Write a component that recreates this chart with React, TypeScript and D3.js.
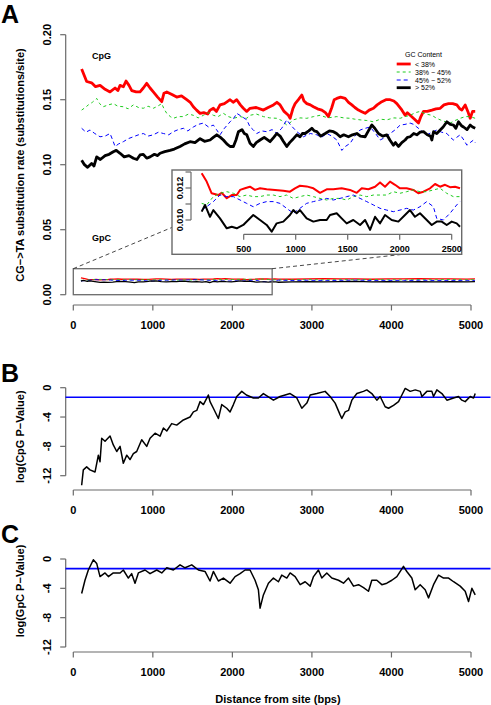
import React from "react";
import * as d3 from "d3";

type P = [number, number];

// ---------- Panel A: CpG substitution rate by GC content ----------
const cpgLow: P[] = [[105,.1736],[168,.164],[230,.163],[280,.160],[337,.161],[400,.158],[462,.156],[525,.159],[560,.157],[588,.161],[630,.160],[663,.1644],[700,.161],[735,.157],[790,.156],[839,.156],[880,.159],[923,.1626],[965,.159],[1006,.156],[1060,.152],[1112,.1485],[1140,.155],[1175,.156],[1240,.154],[1300,.152],[1360,.153],[1426,.150],[1470,.148],[1509,.1446],[1550,.142],[1594,.1395],[1640,.140],[1690,.139],[1720,.142],[1761,.1434],[1800,.141],[1845,.146],[1900,.147],[1971,.150],[2010,.148],[2055,.150],[2100,.146],[2138,.1434],[2180,.141],[2222,.1434],[2300,.144],[2390,.142],[2450,.144],[2516,.146],[2560,.148],[2600,.146],[2650,.141],[2704,.138],[2726,.1357],[2760,.143],[2789,.147],[2830,.150],[2873,.1536],[2900,.149],[2936,.147],[2980,.146],[3019,.1446],[3070,.143],[3124,.142],[3170,.140],[3208,.137],[3250,.144],[3280,.150],[3313,.151],[3360,.152],[3418,.151],[3460,.148],[3502,.146],[3540,.144],[3585,.142],[3620,.141],[3669,.1395],[3720,.142],[3774,.1434],[3820,.146],[3879,.1485],[3930,.150],[3984,.150],[4030,.149],[4068,.147],[4120,.143],[4172,.138],[4200,.140],[4235,.138],[4290,.135],[4340,.132],[4370,.137],[4403,.141],[4450,.141],[4508,.142],[4560,.143],[4613,.1434],[4660,.146],[4717,.147],[4770,.147],[4822,.146],[4860,.143],[4885,.142],[4927,.146],[4960,.141],[4990,.1357],[5020,.141],[5053,.141]];
const cpgMidLow: P[] = [[105,.142],[150,.144],[189,.146],[240,.148],[294,.151],[330,.147],[377,.1446],[440,.146],[503,.147],[560,.145],[629,.1446],[690,.143],[755,.146],[820,.144],[880,.1434],[940,.145],[1006,.1434],[1060,.145],[1112,.147],[1140,.143],[1175,.1395],[1220,.137],[1258,.1357],[1320,.137],[1384,.137],[1450,.139],[1509,.138],[1570,.136],[1635,.138],[1700,.140],[1761,.138],[1820,.137],[1887,.1395],[1950,.137],[2013,.1357],[2100,.137],[2181,.1357],[2222,.138],[2300,.139],[2390,.137],[2470,.136],[2558,.1357],[2620,.134],[2684,.1305],[2720,.132],[2767,.1345],[2850,.136],[2936,.1357],[3020,.137],[3103,.138],[3200,.136],[3313,.137],[3400,.136],[3481,.1357],[3540,.135],[3606,.1345],[3690,.134],[3774,.133],[3860,.135],[3942,.1345],[4030,.136],[4110,.1357],[4170,.137],[4235,.138],[4300,.140],[4361,.141],[4430,.139],[4508,.138],[4560,.136],[4613,.1345],[4680,.133],[4738,.132],[4800,.134],[4864,.1357],[4930,.137],[4990,.137],[5053,.1357]];
const cpgMidHigh: P[] = [[105,.128],[160,.125],[210,.1267],[270,.124],[336,.1215],[400,.122],[462,.124],[495,.119],[525,.114],[570,.116],[629,.1177],[690,.120],[755,.1215],[820,.123],[880,.124],[940,.122],[1006,.123],[1070,.125],[1133,.124],[1200,.123],[1258,.1254],[1320,.127],[1384,.128],[1440,.126],[1509,.129],[1570,.131],[1635,.132],[1700,.129],[1761,.1305],[1800,.127],[1845,.123],[1900,.128],[1971,.133],[2020,.136],[2055,.1395],[2120,.137],[2181,.1345],[2222,.129],[2260,.127],[2306,.124],[2370,.126],[2432,.1254],[2500,.127],[2558,.124],[2620,.128],[2684,.1345],[2740,.130],[2810,.1254],[2893,.1215],[2980,.124],[3062,.123],[3120,.121],[3187,.124],[3250,.122],[3313,.119],[3376,.111],[3420,.114],[3481,.1165],[3540,.122],[3606,.1267],[3670,.128],[3732,.129],[3800,.124],[3858,.119],[3920,.121],[3984,.124],[4050,.127],[4110,.1305],[4170,.131],[4235,.132],[4280,.131],[4319,.129],[4380,.126],[4445,.123],[4510,.125],[4571,.1267],[4630,.125],[4697,.124],[4740,.121],[4780,.119],[4820,.121],[4864,.123],[4910,.119],[4948,.115],[4990,.117],[5032,.119],[5053,.117]];
const cpgHigh: P[] = [[105,.1035],[140,.100],[180,.098],[230,.101],[260,.099],[294,.106],[340,.104],[400,.107],[450,.108],[503,.110],[540,.111],[588,.1088],[640,.106],[700,.107],[755,.105],[800,.104],[839,.1075],[880,.108],[923,.105],[965,.106],[1020,.108],[1060,.107],[1091,.1088],[1150,.110],[1216,.111],[1270,.112],[1342,.114],[1400,.116],[1468,.1177],[1530,.117],[1594,.120],[1650,.118],[1720,.119],[1760,.121],[1804,.123],[1850,.121],[1887,.119],[1930,.116],[1971,.114],[2013,.114],[2045,.119],[2076,.1254],[2120,.127],[2150,.124],[2181,.123],[2222,.1165],[2264,.114],[2300,.117],[2348,.119],[2400,.121],[2474,.1177],[2520,.121],[2558,.124],[2600,.122],[2640,.118],[2684,.114],[2720,.117],[2767,.120],[2810,.123],[2851,.1215],[2880,.124],[2914,.124],[2960,.126],[2999,.128],[3030,.126],[3062,.1254],[3110,.122],[3167,.124],[3220,.126],[3271,.1254],[3310,.124],[3355,.1215],[3400,.123],[3459,.1215],[3510,.123],[3565,.124],[3610,.122],[3669,.1215],[3710,.126],[3753,.1305],[3790,.128],[3836,.124],[3890,.122],[3942,.123],[3980,.119],[4025,.115],[4050,.117],[4088,.114],[4130,.117],[4172,.119],[4200,.121],[4235,.1215],[4280,.124],[4319,.123],[4360,.125],[4403,.1254],[4450,.123],[4490,.122],[4508,.119],[4529,.1254],[4570,.124],[4613,.1267],[4650,.129],[4697,.133],[4740,.131],[4780,.1305],[4810,.128],[4843,.133],[4880,.130],[4906,.129],[4950,.127],[4990,.1305],[5020,.129],[5053,.128]];

// ---------- Panel A: GpC substitution rate (also shown in the inset) ----------
const gpcLow: P[] = [[96,.01292],[144,.0124],[192,.01167],[256,.01156],[288,.0117],[337,.01136],[385,.01156],[433,.01156],[465,.01188],[512,.01198],[560,.01208],[609,.01188],[657,.01198],[721,.01192],[801,.01188],[881,.01183],[945,.01177],[993,.01198],[1041,.01214],[1105,.0121],[1170,.01198],[1234,.0117],[1298,.01192],[1362,.01192],[1442,.01198],[1522,.01188],[1587,.0117],[1635,.01198],[1699,.01192],[1763,.01208],[1811,.01235],[1859,.01208],[1907,.0124],[1955,.0122],[2003,.01198],[2067,.01198],[2131,.01188],[2179,.01167],[2228,.01177],[2292,.01198],[2340,.01225],[2388,.01208],[2436,.0122],[2484,.01205],[2532,.01208],[2580,.01198],[2750,.0119],[2950,.0121],[3150,.0123],[3350,.0121],[3550,.0122],[3750,.0119],[3950,.0122],[4150,.0121],[4350,.0123],[4550,.0121],[4750,.0122],[4950,.0120],[5050,.0121]];
const gpcMidLow: P[] = [[96,.01104],[144,.01094],[208,.01146],[272,.01167],[337,.01177],[401,.01167],[465,.01146],[528,.01156],[592,.01146],[657,.01146],[721,.01156],[785,.01156],[849,.01146],[913,.01156],[977,.01135],[1041,.01146],[1105,.01156],[1170,.01146],[1234,.01135],[1298,.01125],[1362,.01135],[1426,.01135],[1490,.01125],[1554,.01146],[1619,.01156],[1683,.01146],[1747,.01156],[1811,.01156],[1875,.01156],[1939,.01177],[2003,.01167],[2067,.01177],[2131,.01188],[2195,.01177],[2260,.01177],[2324,.01188],[2388,.01198],[2452,.01167],[2516,.01146],[2580,.01146],[2750,.0115],[2950,.0116],[3150,.0114],[3350,.0116],[3550,.0115],[3750,.0117],[3950,.0115],[4150,.0114],[4350,.0116],[4550,.0115],[4750,.0117],[4950,.0115],[5050,.0116]];
const gpcMidHigh: P[] = [[96,.01062],[144,.01083],[208,.01115],[272,.01156],[337,.01146],[401,.01146],[465,.01125],[528,.01104],[592,.01083],[657,.01104],[721,.01115],[785,.01115],[849,.01104],[913,.01073],[977,.01042],[1041,.01073],[1105,.01104],[1170,.01115],[1234,.01125],[1298,.01135],[1362,.01125],[1426,.01135],[1490,.01146],[1554,.01156],[1619,.01135],[1683,.01115],[1747,.01094],[1811,.01073],[1875,.01062],[1939,.01052],[2003,.01062],[2067,.01073],[2131,.01062],[2195,.01083],[2260,.01115],[2324,.01083],[2356,.0101],[2420,.0100],[2484,.01042],[2548,.01094],[2580,.01115],[2750,.0109],[2950,.0111],[3150,.0108],[3350,.0110],[3550,.0112],[3750,.0109],[3950,.0110],[4150,.0108],[4350,.0111],[4550,.0109],[4750,.0110],[4950,.0108],[5050,.0110]];
const gpcHigh: P[] = [[96,.01052],[128,.01094],[176,.0102],[208,.01062],[272,.0101],[337,.00948],[385,.00958],[433,.00948],[496,.00969],[544,.0100],[592,.01031],[657,.0100],[721,.00969],[769,.00927],[817,.00979],[881,.0099],[945,.01031],[977,.01062],[1009,.01042],[1041,.01062],[1105,.0101],[1170,.0099],[1234,.0100],[1298,.0100],[1330,.01031],[1394,.01042],[1442,.0101],[1490,.00979],[1554,.0100],[1619,.00969],[1667,.0100],[1715,.00938],[1763,.0102],[1811,.00979],[1859,.01031],[1923,.0100],[1987,.0099],[2051,.01031],[2099,.01062],[2147,.0102],[2195,.01042],[2260,.0100],[2308,.00969],[2356,.0099],[2404,.0099],[2452,.00969],[2500,.0099],[2548,.00979],[2580,.00958],[2750,.0099],[2950,.0101],[3150,.0098],[3350,.0100],[3550,.0102],[3750,.0099],[3950,.0100],[4150,.0098],[4350,.0101],[4550,.0099],[4750,.0100],[4950,.0098],[5050,.0100]];

// ---------- Panel B / C: log p-values ----------
const cpgPValue: P[] = [[105,-13.3],[126,-11.2],[168,-10.8],[210,-11.2],[273,-11.5],[315,-9.2],[336,-10.1],[357,-6.9],[399,-7.3],[462,-6.6],[503,-7.8],[546,-8.7],[588,-8.0],[629,-10.3],[672,-9.2],[713,-9.8],[755,-9.0],[797,-8.7],[860,-7.1],[923,-8.0],[965,-6.9],[1028,-6.2],[1091,-6.6],[1133,-5.5],[1175,-5.9],[1237,-4.9],[1300,-5.1],[1384,-4.4],[1468,-4.0],[1510,-3.3],[1552,-3.1],[1594,-1.9],[1636,-2.3],[1698,-1.0],[1719,-1.9],[1761,-2.8],[1824,-4.2],[1866,-2.3],[1929,-2.8],[1971,-3.3],[2013,-2.3],[2055,-1.2],[2118,-0.5],[2176,-1.0],[2264,-1.4],[2327,-1.4],[2390,-0.8],[2516,-1.7],[2600,-1.2],[2726,-0.8],[2810,-1.4],[2873,-2.8],[2936,-2.1],[2978,-1.0],[3062,-0.8],[3166,-0.5],[3229,-1.2],[3292,-2.1],[3355,-3.7],[3376,-4.2],[3418,-3.3],[3460,-3.1],[3502,-1.7],[3565,-0.8],[3648,-0.5],[3690,-0.3],[3753,-0.8],[3816,-1.7],[3858,-1.2],[3921,-2.6],[3963,-2.8],[4026,-2.4],[4089,-1.9],[4131,-1.0],[4173,-0.1],[4236,-0.5],[4299,-0.3],[4362,-0.5],[4383,-1.2],[4445,-0.5],[4508,-0.5],[4529,-1.2],[4571,-0.3],[4634,-0.8],[4697,-1.7],[4781,-1.4],[4843,-1.2],[4885,-1.7],[4927,-1.9],[4990,-1.2],[5032,-1.4],[5053,-0.8]];
const gpcPValue: P[] = [[105,-4.7],[147,-2.9],[189,-1.5],[252,-0.1],[294,-0.6],[336,-2.4],[399,-1.9],[441,-2.4],[503,-1.9],[588,-1.9],[629,-1.5],[692,-2.6],[734,-2.0],[776,-3.3],[818,-1.9],[902,-1.5],[965,-2.0],[1049,-1.5],[1112,-1.9],[1175,-1.2],[1258,-1.5],[1342,-0.8],[1405,-1.2],[1489,-0.8],[1573,-1.5],[1656,-1.7],[1719,-3.0],[1761,-1.7],[1824,-3.0],[1887,-2.6],[1971,-3.3],[2034,-2.4],[2097,-2.0],[2160,-1.5],[2222,-1.5],[2285,-2.9],[2327,-4.2],[2348,-6.7],[2390,-4.9],[2453,-3.3],[2516,-2.6],[2579,-3.1],[2621,-2.2],[2684,-2.6],[2726,-1.9],[2789,-2.4],[2852,-3.5],[2915,-3.1],[2978,-3.7],[3020,-2.4],[3082,-1.5],[3124,-2.6],[3187,-1.9],[3250,-2.6],[3334,-2.9],[3397,-3.3],[3460,-2.6],[3523,-3.7],[3586,-3.5],[3649,-3.9],[3711,-4.4],[3753,-2.9],[3816,-2.9],[3879,-3.5],[3942,-3.3],[4005,-2.9],[4068,-2.4],[4151,-1.0],[4193,-1.7],[4256,-2.6],[4298,-4.2],[4361,-3.5],[4424,-4.2],[4466,-5.3],[4529,-3.5],[4592,-2.2],[4655,-2.6],[4718,-2.6],[4781,-3.1],[4864,-3.7],[4927,-4.4],[4969,-5.8],[5011,-4.0],[5053,-4.9]];
const significance = Math.log10(0.05);

// ---------- ticks & labels ----------
const xTicks = [0, 1000, 2000, 3000, 4000, 5000];
const yTicksA = [0, 0.05, 0.1, 0.15, 0.2];
const yTickLabelsA = ["0.00", "0.05", "0.10", "0.15", "0.20"];
const yTicksP = [0, -4, -8, -12];
const insetXTicks = [500, 1000, 1500, 2000, 2500];
const insetYTicks = [0.010, 0.011, 0.012, 0.013];
const insetYLabels = ["0.010", "", "0.012", ""];
const legendLabels = ["< 38%", "38% \u2212 45%", "45% \u2212 52%", "> 52%"];

const styles = [
  { color: "#ff0000", width: 2.8, dash: undefined as string | undefined },
  { color: "#1fcc1f", width: 1, dash: "3,3" },
  { color: "#0000ff", width: 1, dash: "4,3" },
  { color: "#000000", width: 2.8, dash: undefined as string | undefined },
];

const FONT = "'Liberation Sans', Arial, Helvetica, sans-serif";
const AXIS = "#6a6a6a";

const xA = d3.scaleLinear().domain([0, 5000]).range([73.3, 471]);
const yA = d3.scaleLinear().domain([0, 0.2]).range([294.7, 34.7]);
const yB = d3.scaleLinear().domain([0, -12]).range([387.7, 475.7]);
const yC = d3.scaleLinear().domain([0, -12]).range([559, 647]);
const xI = d3.scaleLinear().domain([500, 2500]).range([243.7, 451.7]);
const yI = d3.scaleLinear().domain([0.010, 0.013]).range([220, 172]);

function XAxis({ y, labelY, ticks, scale, fs }: any) {
  return (
    <g>
      <line x1={scale(ticks[0])} x2={scale(ticks[ticks.length - 1])} y1={y} y2={y} stroke={AXIS} strokeWidth={1.2} />
      {ticks.map((t: number) => (
        <g key={t}>
          <line x1={scale(t)} x2={scale(t)} y1={y} y2={y + 5.5} stroke={AXIS} strokeWidth={1.2} />
          <text x={scale(t)} y={labelY} textAnchor="middle" fontSize={fs} fontWeight="bold">{t}</text>
        </g>
      ))}
    </g>
  );
}

function YAxis({ x, labelX, ticks, labels, scale, fs }: any) {
  const ys = ticks.map((t: number) => scale(t));
  return (
    <g>
      <line x1={x} x2={x} y1={Math.min(...ys)} y2={Math.max(...ys)} stroke={AXIS} strokeWidth={1.2} />
      {ticks.map((t: number, i: number) => (
        <g key={i}>
          <line x1={x} x2={x - 5.5} y1={scale(t)} y2={scale(t)} stroke={AXIS} strokeWidth={1.2} />
          {labels[i] ? (
            <text transform={`translate(${labelX},${scale(t)}) rotate(-90)`} textAnchor="middle" fontSize={fs} fontWeight="bold">{labels[i]}</text>
          ) : null}
        </g>
      ))}
    </g>
  );
}

export default function App() {
  const lineA = d3.line<P>().x((d) => xA(d[0])).y((d) => yA(d[1]));
  const lineI = d3.line<P>().x((d) => xI(d[0])).y((d) => yI(d[1]));
  const lineB = d3.line<P>().x((d) => xA(d[0])).y((d) => yB(d[1]));
  const lineC = d3.line<P>().x((d) => xA(d[0])).y((d) => yC(d[1]));
  const cpg = [cpgLow, cpgMidLow, cpgMidHigh, cpgHigh];
  const gpc = [gpcLow, gpcMidLow, gpcMidHigh, gpcHigh];
  const plotLeft = 65.5, plotRight = 490.5;

  return (
    <svg width={491} height={705} style={{ position: "absolute", left: 0, top: 0, background: "#fff" }} fontFamily={FONT}>
      <rect x={0} y={0} width={491} height={705} fill="#fff" />

      {/* ===== Panel A ===== */}
      <text x={1} y={23} fontSize={25} fontWeight="bold">A</text>
      <text transform="translate(24,165) rotate(-90)" textAnchor="middle" fontSize={11} fontWeight="bold">CG{"\u2212"}&gt;TA substitution rate (substitutions/site)</text>
      <YAxis x={65.7} labelX={51} ticks={yTicksA} labels={yTickLabelsA} scale={yA} fs={11} />
      <XAxis y={305} labelY={329} ticks={xTicks} scale={xA} fs={11} />
      <text x={92} y={59} fontSize={9} fontWeight="bold">CpG</text>
      <text x={92} y={241} fontSize={9} fontWeight="bold">GpC</text>

      {cpg.map((s, i) => (
        <path key={"c" + i} d={lineA(s) || ""} fill="none" stroke={styles[i].color} strokeWidth={styles[i].width} strokeDasharray={styles[i].dash} strokeLinejoin="round" />
      ))}
      {gpc.map((s, i) => (
        <path key={"g" + i} d={lineA(s) || ""} fill="none" stroke={styles[i].color} strokeWidth={i === 0 || i === 3 ? 1.3 : 0.9} strokeDasharray={styles[i].dash} strokeLinejoin="round" />
      ))}

      {/* zoom region + connectors */}
      <rect x={xA(0)} y={yA(0.02)} width={xA(2500) - xA(0)} height={yA(0) - yA(0.02)} fill="none" stroke={AXIS} strokeWidth={1.3} />
      <line x1={xA(0)} y1={yA(0.02)} x2={xA(1250)} y2={yA(0.052)} stroke="#333" strokeWidth={0.9} strokeDasharray="4,3" />
      <line x1={xA(2500)} y1={yA(0.02)} x2={xA(4150)} y2={yA(0.0311)} stroke="#333" strokeWidth={0.9} strokeDasharray="4,3" />

      {/* inset */}
      <rect x={172} y={170} width={289.7} height={84.3} fill="#fff" stroke={AXIS} strokeWidth={1.4} />
      <YAxis x={191} labelX={182.5} ticks={insetYTicks} labels={insetYLabels} scale={yI} fs={9} />
      <XAxis y={234.3} labelY={251.5} ticks={insetXTicks} scale={xI} fs={9} />
      {gpc.map((s, i) => (
        <path key={"i" + i} d={lineI(s.filter((d) => d[0] <= 2580)) || ""} fill="none" stroke={styles[i].color} strokeWidth={i === 0 || i === 3 ? 2 : 1} strokeDasharray={styles[i].dash} strokeLinejoin="round" />
      ))}

      {/* legend */}
      <text x={405} y={56.5} fontSize={7}>GC Content</text>
      {legendLabels.map((l, i) => {
        const cy = [64, 72, 80, 87.7][i];
        return (
          <g key={l}>
            <line x1={396.7} x2={410.7} y1={cy} y2={cy} stroke={styles[i].color} strokeWidth={styles[i].width} strokeDasharray={styles[i].dash} />
            <text x={415} y={cy + 2.5} fontSize={7}>{l}</text>
          </g>
        );
      })}

      {/* ===== Panel B ===== */}
      <text x={1} y={381.7} fontSize={25} fontWeight="bold">B</text>
      <text transform="translate(24,436.7) rotate(-90)" textAnchor="middle" fontSize={11} fontWeight="bold">log(CpG P{"\u2212"}Value)</text>
      <YAxis x={65.7} labelX={51} ticks={yTicksP} labels={yTicksP.map(String)} scale={yB} fs={11} />
      <XAxis y={490} labelY={514} ticks={xTicks} scale={xA} fs={11} />
      <line x1={plotLeft} x2={plotRight} y1={yB(significance)} y2={yB(significance)} stroke="#0000ff" strokeWidth={1.7} />
      <path d={lineB(cpgPValue) || ""} fill="none" stroke="#000" strokeWidth={1.5} strokeLinejoin="round" />

      {/* ===== Panel C ===== */}
      <text x={1} y={543} fontSize={25} fontWeight="bold">C</text>
      <text transform="translate(24,591) rotate(-90)" textAnchor="middle" fontSize={11} fontWeight="bold">log(GpC P{"\u2212"}Value)</text>
      <YAxis x={65.7} labelX={51} ticks={yTicksP} labels={yTicksP.map(String)} scale={yC} fs={11} />
      <XAxis y={652} labelY={676} ticks={xTicks} scale={xA} fs={11} />
      <line x1={plotLeft} x2={plotRight} y1={yC(significance)} y2={yC(significance)} stroke="#0000ff" strokeWidth={1.7} />
      <path d={lineC(gpcPValue) || ""} fill="none" stroke="#000" strokeWidth={1.5} strokeLinejoin="round" />

      <text x={278} y={703} textAnchor="middle" fontSize={11} fontWeight="bold">Distance from site (bps)</text>
    </svg>
  );
}
